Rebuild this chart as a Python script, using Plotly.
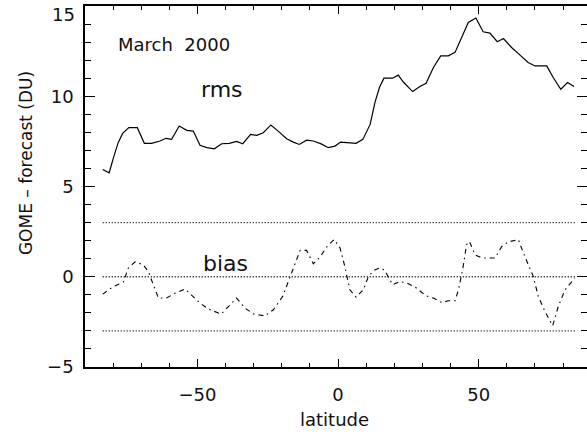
import plotly.graph_objects as go

# ---- data ----
rms_lat = [-83.7, -81.4, -79.9, -78.2, -76.6, -74.4, -71.4, -68.9, -66.3, -63.3, -61.2, -59.2,
           -56.5, -53.8, -51.5, -49.1, -46.7, -44.0, -41.4, -38.7, -36.1, -33.9, -31.1, -28.9,
           -26.6, -23.9, -21.3, -18.3, -15.9, -13.8, -11.2, -8.8, -6.0, -3.5, -1.1, 0.9, 3.1,
           6.4, 8.8, 11.4, 13.1, 14.7, 16.3, 19.4, 21.4, 23.2, 26.5, 29.1, 31.3, 33.9, 36.5,
           39.2, 41.6, 44.0, 46.3, 49.0, 51.6, 54.0, 56.6, 58.8, 61.7, 64.7, 67.6, 70.0, 74.2,
           76.5, 79.2, 81.6, 83.9]
rms_val = [5.94, 5.76, 6.59, 7.43, 7.94, 8.26, 8.26, 7.39, 7.39, 7.52, 7.67, 7.61, 8.35, 8.11,
           8.07, 7.28, 7.15, 7.09, 7.37, 7.39, 7.5, 7.37, 7.89, 7.83, 7.98, 8.41, 8.07, 7.65,
           7.46, 7.33, 7.57, 7.52, 7.36, 7.15, 7.24, 7.46, 7.43, 7.39, 7.61, 8.44, 9.65, 10.48,
           11.0, 11.0, 11.17, 10.79, 10.26, 10.54, 10.72, 11.59, 12.24, 12.24, 12.43, 13.26,
           14.09, 14.33, 13.57, 13.5, 13.02, 13.2, 12.7, 12.28, 11.87, 11.68, 11.68, 11.04,
           10.39, 10.76, 10.54]

bias_lat = [-83.7, -79.9, -76.4, -74.6, -72.2, -69.3, -67.5, -65.7, -63.9, -61.0, -58.0, -54.4,
            -51.5, -49.1, -46.2, -41.6, -39.0, -36.1, -33.1, -30.1, -26.0, -23.0, -19.7, -17.1,
            -15.3, -13.5, -11.2, -8.8, -6.4, -3.8, -1.4, 0.7, 2.1, 3.3, 4.2, 6.4, 9.0, 10.7,
            12.5, 14.7, 16.4, 17.9, 19.4, 22.0, 24.4, 27.4, 31.3, 33.9, 36.9, 39.2, 41.6, 42.8,
            44.3, 45.7, 46.7, 48.7, 51.1, 55.8, 58.2, 60.5, 64.1, 65.9, 67.6, 69.4, 71.2, 73.6,
            76.3, 78.3, 80.7, 84.2]
bias_val = [-0.96, -0.54, -0.30, 0.48, 0.82, 0.67, 0.30, -0.44, -1.18, -1.18, -0.91, -0.68,
            -1.09, -1.46, -1.78, -2.07, -1.65, -1.18, -1.74, -2.06, -2.17, -1.83, -1.09, -0.02,
            0.76, 1.46, 1.46, 0.72, 1.1, 1.7, 2.06, 1.59, 0.76, -0.17, -0.72, -1.13, -0.72,
            -0.02, 0.33, 0.48, 0.39, -0.02, -0.44, -0.26, -0.35, -0.57, -1.06, -1.18, -1.43,
            -1.33, -1.33, -0.72, 0.39, 1.78, 1.96, 1.22, 1.04, 1.04, 1.68, 1.93, 2.06, 1.32,
            0.67, 0.02, -1.09, -1.93, -2.72, -1.65, -0.72, -0.07]

ref_levels = [3, 0, -3]
y_ticks = [-5, 0, 5, 10, 15]
x_ticks = [-50, 0, 50]

FONT = "DejaVu Sans"
TXT = "#111111"
ref_x = [min(rms_lat + bias_lat), max(rms_lat + bias_lat)]

fig = go.Figure()
for lev in ref_levels:
    fig.add_trace(go.Scatter(x=ref_x, y=[lev, lev], mode="lines", yaxis="y2",
                             line=dict(color="black", width=1.4, dash="1px,2px"),
                             showlegend=False, hoverinfo="skip"))
fig.add_trace(go.Scatter(x=rms_lat, y=rms_val, mode="lines",
                         line=dict(color="black", width=1.2), showlegend=False))
fig.add_trace(go.Scatter(x=bias_lat, y=bias_val, mode="lines",
                         line=dict(color="black", width=1.1, dash="5px,4px,1.5px,4px"),
                         showlegend=False))

fig.update_layout(
    width=587, height=432,
    margin=dict(l=85, r=0, t=6, b=65),
    paper_bgcolor="white", plot_bgcolor="white",
    font=dict(family=FONT, size=18, color=TXT),
    xaxis=dict(range=[-90, 88.52], tickvals=x_ticks, ticks="inside", ticklen=8,
               tickcolor="black", showline=True, linecolor="black", linewidth=1.5,
               mirror="ticks", showgrid=False, zeroline=False,
               tickfont=dict(family=FONT, size=18, color=TXT), ticklabelstandoff=11,
               minor=dict(dtick=10, ticks="inside", ticklen=4, tickcolor="black")),
    yaxis=dict(range=[-5, 15], tickvals=y_ticks, ticktext=["\u22125", "0", "5", "10", ""],
               ticks="inside", ticklen=10, tickcolor="black", showline=True,
               linecolor="black", linewidth=1.5, showgrid=False, zeroline=False,
               tickfont=dict(family=FONT, size=18, color=TXT), ticklabelstandoff=6,
               minor=dict(dtick=1, ticks="inside", ticklen=6, tickcolor="black")),
    yaxis2=dict(range=[-5, 15], overlaying="y", side="right", tickvals=y_ticks,
                ticks="inside", ticklen=10, tickcolor="black", showline=False,
                showticklabels=False, showgrid=False, zeroline=False,
                minor=dict(dtick=1, ticks="inside", ticklen=6, tickcolor="black")),
    annotations=[
        dict(x=0, y=15, xref="paper", yref="y", text="15", showarrow=False,
             xanchor="right", yanchor="middle", xshift=-8, yshift=-8,
             font=dict(family=FONT, size=18, color=TXT)),
        dict(x=-58.3, y=12.84, xref="x", yref="y", text="March  2000", showarrow=False,
             font=dict(family=FONT, size=18, color=TXT)),
        dict(x=-41.3, y=10.35, xref="x", yref="y", text="rms", showarrow=False,
             font=dict(family=FONT, size=22, color=TXT)),
        dict(x=-40.2, y=0.76, xref="x", yref="y", text="bias", showarrow=False,
             font=dict(family=FONT, size=22, color=TXT)),
        dict(x=0.5, y=-0.1385, xref="paper", yref="paper", text="latitude", showarrow=False,
             xanchor="center", yanchor="middle", xshift=-2, yshift=-3,
             font=dict(family=FONT, size=18, color=TXT)),
        dict(x=-0.1175, y=0.565, xref="paper", yref="paper", text="GOME \u2013 forecast (DU)",
             showarrow=False, textangle=-90, xanchor="center", yanchor="middle",
             font=dict(family=FONT, size=17, color=TXT)),
    ],
)

fig.write_html("out.html")
